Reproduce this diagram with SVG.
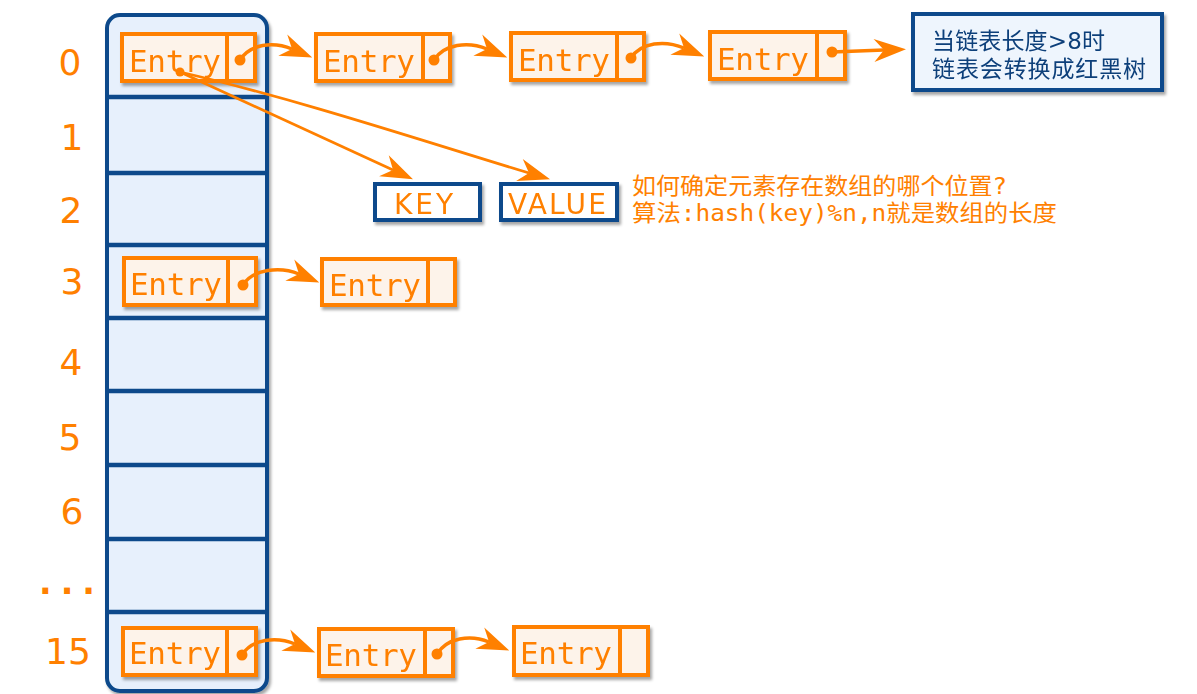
<svg xmlns="http://www.w3.org/2000/svg" width="1197" height="694" viewBox="0 0 1197 694">
<defs>
<filter id="sh" x="-10%" y="-10%" width="130%" height="140%">
<feDropShadow dx="2" dy="3" stdDeviation="1.6" flood-color="#000" flood-opacity="0.35"/>
</filter>
<marker id="ah" markerUnits="userSpaceOnUse" markerWidth="44" markerHeight="32" viewBox="-16 -16 44 32" refX="0" refY="0" orient="auto" overflow="visible">
<path d="M22,0 L-10,-11.5 L0,0 L-10,11.5 Z" fill="#ff8000"/>
</marker>
</defs>
<style>
.idx{font-family:"DejaVu Sans",sans-serif;font-size:36px;fill:#ff8000;text-anchor:middle}
.ent rect{fill:#fdf3ea;stroke:#ff8000;stroke-width:4}
.ent line{stroke:#ff8000;stroke-width:4}
.ent text{font-family:"DejaVu Sans Mono",monospace;font-size:31px;fill:#ff8000}
.dot{fill:#ff8000}
.con path{fill:none;stroke:#ff8000;stroke-width:3.5;marker-end:url(#ah)}
.kv rect{fill:#ffffff;stroke:#0b4a8b;stroke-width:4}
.kv text{font-family:"DejaVu Sans",sans-serif;font-size:28px;fill:#ff8000}
.note{font-family:"DejaVu Sans Mono","Noto Sans CJK SC",monospace;font-size:23px;fill:#ff8000}
.blue{font-family:"DejaVu Sans","Noto Sans CJK SC",sans-serif;font-size:23px;fill:#0d3f7a}
</style>
<rect width="1197" height="694" fill="#ffffff"/>

<g id="table" filter="url(#sh)">
<rect x="107" y="15" width="160" height="676" rx="13" fill="#e7f0fc" stroke="#0b4a8b" stroke-width="4"/>
<g stroke="#0b4a8b" stroke-width="4.5">
<line x1="107" y1="97" x2="267" y2="97"/>
<line x1="107" y1="173" x2="267" y2="173"/>
<line x1="107" y1="245" x2="267" y2="245"/>
<line x1="107" y1="318" x2="267" y2="318"/>
<line x1="107" y1="391" x2="267" y2="391"/>
<line x1="107" y1="465" x2="267" y2="465"/>
<line x1="107" y1="539" x2="267" y2="539"/>
<line x1="107" y1="612" x2="267" y2="612"/>
</g>
</g>

<g id="indexes">
<text class="idx" x="70" y="75">0</text>
<text class="idx" x="72" y="150">1</text>
<text class="idx" x="71" y="223">2</text>
<text class="idx" x="72" y="294">3</text>
<text class="idx" x="71" y="375">4</text>
<text class="idx" x="70" y="450">5</text>
<text class="idx" x="72" y="524">6</text>
<text x="67" y="594" style="font-family:'DejaVu Sans Mono',monospace;font-size:36px;fill:#ff8000;text-anchor:middle;font-weight:bold">...</text>
<text class="idx" x="68" y="664">15</text>
</g>

<g id="entry-0-0" class="ent" filter="url(#sh)">
<rect x="122" y="34" width="133" height="47"/><line x1="227" y1="34" x2="227" y2="81"/>
<text x="129" y="72" textLength="92">Entry</text></g>
<g id="entry-0-1" class="ent" filter="url(#sh)">
<rect x="316" y="34" width="134" height="47"/><line x1="423" y1="34" x2="423" y2="81"/>
<text x="323" y="72" textLength="92">Entry</text></g>
<g id="entry-0-2" class="ent" filter="url(#sh)">
<rect x="511" y="33" width="133" height="47"/><line x1="617" y1="33" x2="617" y2="80"/>
<text x="518" y="71" textLength="92">Entry</text></g>
<g id="entry-0-3" class="ent" filter="url(#sh)">
<rect x="710" y="32" width="135" height="47"/><line x1="817" y1="32" x2="817" y2="79"/>
<text x="717" y="70" textLength="92">Entry</text></g>

<g id="entry-3-0" class="ent" filter="url(#sh)">
<rect x="124" y="258" width="132" height="47"/><line x1="228" y1="258" x2="228" y2="305"/>
<text x="130" y="295" textLength="92">Entry</text></g>
<g id="entry-3-1" class="ent" filter="url(#sh)">
<rect x="322" y="259" width="133" height="46"/><line x1="428" y1="259" x2="428" y2="305"/>
<text x="329" y="296" textLength="92">Entry</text></g>

<g id="entry-15-0" class="ent" filter="url(#sh)">
<rect x="123" y="628" width="133" height="47"/><line x1="227" y1="628" x2="227" y2="675"/>
<text x="129" y="664" textLength="92">Entry</text></g>
<g id="entry-15-1" class="ent" filter="url(#sh)">
<rect x="319" y="629" width="134" height="47"/><line x1="425" y1="629" x2="425" y2="676"/>
<text x="325" y="666" textLength="92">Entry</text></g>
<g id="entry-15-2" class="ent" filter="url(#sh)">
<rect x="514" y="627" width="134" height="48"/><line x1="620" y1="627" x2="620" y2="675"/>
<text x="520" y="664" textLength="92">Entry</text></g>

<g id="key" class="kv" filter="url(#sh)">
<rect x="375" y="184" width="105" height="36"/>
<text x="394" y="214" textLength="59">KEY</text></g>
<g id="value" class="kv" filter="url(#sh)">
<rect x="501" y="184" width="116" height="36"/>
<text x="508" y="214" textLength="98">VALUE</text></g>

<g id="rbtree-note" filter="url(#sh)">
<rect x="913" y="14" width="249" height="76" fill="#eef5fd" stroke="#0b4a8b" stroke-width="4"/>
<text class="blue" x="932" y="49" textLength="173">当链表长度&gt;8时</text>
<text class="blue" x="932" y="77" textLength="214">链表会转换成红黑树</text>
</g>

<g id="hash-note">
<text class="note" x="632" y="194" textLength="375" lengthAdjust="spacingAndGlyphs">如何确定元素存在数组的哪个位置?</text>
<text class="note" x="632" y="221" textLength="425" lengthAdjust="spacingAndGlyphs">算法:hash(key)%n,n就是数组的长度</text>
</g>

<g id="connectors" class="con">
<path d="M240,60 C250,44 273,41 292,49"/>
<path d="M434,60 C444,44 468,41 487,49"/>
<path d="M631,58 C641,42 665,40 684,48"/>
<path d="M832,52 L884,50"/>
<path d="M243,285 C253,269 280,266 299,274"/>
<path d="M242,655 C252,639 276,636 295,644"/>
<path d="M437,654 C447,638 470,634 489,642"/>
<path d="M180,72 L393,170" style="stroke-width:2.8"/>
<path d="M180,72 C300,100 420,140 529,173" style="stroke-width:2.8"/>
<circle class="dot" cx="240" cy="60" r="5.5"/>
<circle class="dot" cx="434" cy="60" r="5.5"/>
<circle class="dot" cx="631" cy="58" r="5.5"/>
<circle class="dot" cx="832" cy="52" r="5.5"/>
<circle class="dot" cx="243" cy="285" r="5.5"/>
<circle class="dot" cx="242" cy="655" r="5.5"/>
<circle class="dot" cx="437" cy="654" r="5.5"/>
<circle class="dot" cx="180" cy="72" r="4.5"/>
</g>
</svg>
